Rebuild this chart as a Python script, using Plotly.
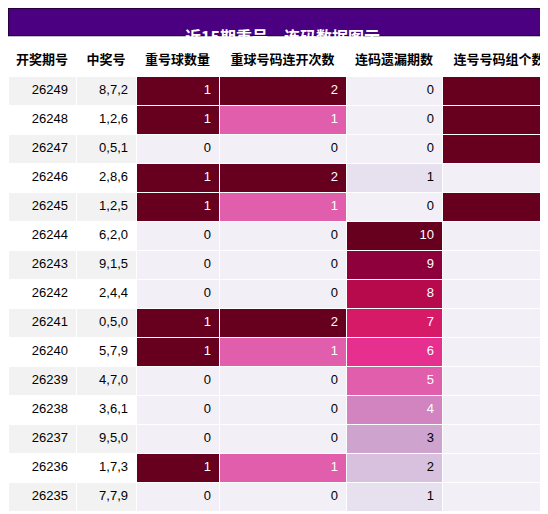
import plotly.graph_objects as go
from plotly.colors import sample_colorscale

periods = ["26249","26248","26247","26246","26245","26244","26243","26242","26241","26240","26239","26238","26237","26236","26235"]
draws = ["8,7,2","1,2,6","0,5,1","2,8,6","1,2,5","6,2,0","9,1,5","2,4,4","0,5,0","5,7,9","4,7,0","3,6,1","9,5,0","1,7,3","7,7,9"]
repeat_cnt = [1,1,0,1,1,0,0,0,1,1,0,0,0,1,0]
repeat_run = [2,1,0,2,1,0,0,0,2,1,0,0,0,1,0]
consec_miss = [0,0,0,1,0,10,9,8,7,6,5,4,3,2,1]
consec_groups = [1,1,1,0,1,0,0,0,0,0,0,0,0,0,0]
headers = ["开奖期号","中奖号","重号球数量","重球号码连开次数","连码遗漏期数","连号号码组个数"]

def colfill(vals):
    m = max(vals)
    ts = [v/m for v in vals]
    fills = [sample_colorscale("PuRd", [0.03 + 0.97*t])[0] for t in ts]
    fcs = ["white" if t > 0.35 else "black" for t in ts]
    return fills, fcs

alt = ["#f2f2f2" if i % 2 == 0 else "white" for i in range(len(periods))]
fills, fcolors = [alt, alt], [["black"]*15, ["black"]*15]
for col in (repeat_cnt, repeat_run, consec_miss, consec_groups):
    f, c = colfill(col)
    fills.append(f); fcolors.append(c)

fig = go.Figure(go.Table(
    columnwidth=[68, 60, 83, 127, 96, 114],
    header=dict(values=[f"<b>{h}</b>" for h in headers], fill_color="white",
                line_color="white", align="center", height=32,
                font=dict(family="Noto Sans CJK SC", size=13, color="black")),
    cells=dict(values=[periods, draws, repeat_cnt, repeat_run, consec_miss, consec_groups],
               fill_color=fills, line=dict(color="white", width=1), align="right", height=29,
               font=dict(family="Liberation Sans", size=13, color=fcolors)),
    domain=dict(x=[0, 1], y=[0, 0.935]),
))
fig.add_shape(type="rect", xref="paper", yref="paper", x0=0, x1=1, y0=0.946, y1=1,
              fillcolor="#4b0082", line=dict(color="black", width=1))
fig.add_annotation(text="<b>近15期重号，连码数据图示</b>", xref="paper", yref="paper", x=0.5, y=0.973,
                   showarrow=False, font=dict(family="Noto Sans CJK SC", size=16, color="white"))
fig.update_layout(width=548, height=514, margin=dict(l=0, r=0, t=0, b=0),
                  paper_bgcolor="white")
fig.write_html("out.html")
